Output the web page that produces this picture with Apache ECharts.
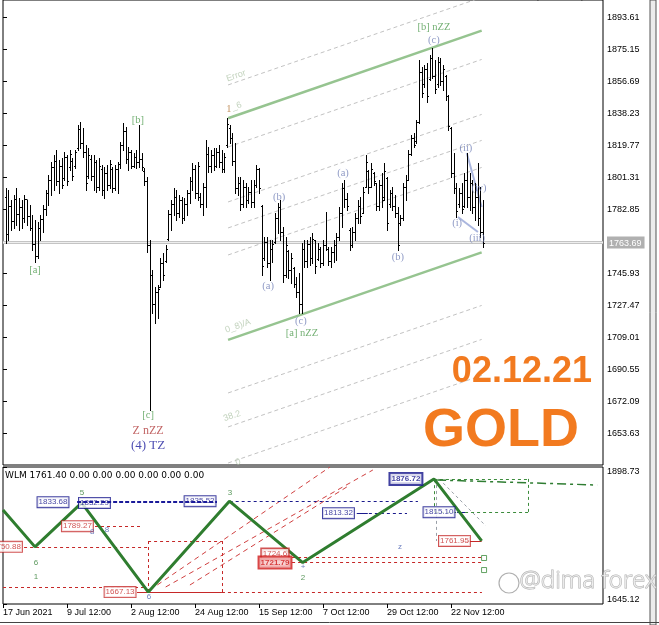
<!DOCTYPE html>
<html>
<head>
<meta charset="utf-8">
<title>GOLD 02.12.21</title>
<script src="https://cdn.jsdelivr.net/npm/echarts@6/dist/echarts.min.js"></script>
<style>
  html, body { margin: 0; padding: 0; background: #fff; }
  #chart { width: 659px; height: 625px; }
</style>
</head>
<body>
<div id="chart"></div>
<script>
// --- axes ---
const priceTicks = [1893.61, 1875.15, 1856.69, 1838.23, 1819.77, 1801.31, 1782.85, 1763.69, 1745.93, 1727.47, 1709.01, 1690.55, 1672.09, 1653.63];
const lastPrice = 1763.69;
const subTicks = [1645.12, 1898.73];
const timeTicks = [0, 24, 48, 72, 96, 120, 144, 168];
const timeLabels = ['17 Jun 2021', '9 Jul 12:00', '2 Aug 12:00', '24 Aug 12:00', '15 Sep 12:00', '7 Oct 12:00', '29 Oct 12:00', '22 Nov 12:00'];

// --- price bars (bar 1 .. 180) ---
const opens = [
  1790.0,1768.5,1785.0,1776.0,1789.0,1780.0,1784.0,1778.0,1789.0,1779.0,
  1772.0,1763.0,1756.0,1772.0,1777.0,1783.0,1792.0,1800.0,1807.0,1811.0,
  1799.0,1808.0,1801.0,1813.0,1807.0,1811.0,1808.0,1818.0,1829.0,1821.0,
  1816.0,1802.0,1812.0,1802.0,1810.0,1796.0,1806.0,1794.0,1804.0,1797.0,
  1806.0,1795.0,1806.0,1809.0,1820.0,1828.0,1812.0,1816.0,1808.0,1813.0,
  1810.0,1812.0,1805.0,1799.0,1762.0,1745.0,1728.0,1735.0,1738.0,1752.0,
  1753.0,1766.0,1780.0,1786.0,1790.0,1781.0,1788.0,1778.0,1786.0,1792.0,
  1799.0,1806.0,1792.0,1790.0,1786.0,1796.0,1815.0,1808.0,1814.0,1808.0,
  1816.0,1810.0,1806.0,1820.0,1830.0,1824.0,1811.0,1795.0,1798.0,1786.0,
  1796.0,1788.0,1793.0,1787.0,1797.0,1806.0,1785.0,1755.0,1764.0,1752.0,
  1760.0,1764.0,1778.0,1784.0,1770.0,1745.0,1759.0,1748.0,1749.0,1740.0,
  1735.0,1728.0,1760.0,1753.0,1763.0,1755.0,1765.0,1754.0,1760.0,1752.0,
  1762.0,1760.0,1753.0,1758.0,1762.0,1767.0,1781.0,1795.0,1789.0,1771.0,
  1762.0,1770.0,1778.0,1785.0,1781.0,1796.0,1805.0,1796.0,1804.0,1798.0,
  1785.0,1797.0,1790.0,1801.0,1786.0,1792.0,1785.0,1781.0,1775.0,1778.0,
  1796.0,1800.0,1815.0,1824.0,1822.0,1833.0,1862.0,1855.0,1864.0,1858.0,
  1870.0,1860.0,1855.0,1868.0,1857.0,1860.0,1848.0,1830.0,1804.0,1795.0,
  1786.0,1792.0,1785.0,1800.0,1790.0,1798.0,1784.0,1790.0,1778.0,1770.0
];
const highs = [
  1795.1,1794.0,1788.2,1791.1,1795.1,1789.4,1788.2,1791.1,1788.2,1785.3,
  1779.6,1776.7,1775.5,1779.6,1785.3,1794.0,1802.6,1810.1,1814.2,1817.1,
  1811.3,1812.5,1815.9,1814.2,1817.1,1812.5,1817.1,1831.5,1833.2,1829.8,
  1820.0,1818.2,1814.2,1814.2,1811.3,1812.5,1808.4,1807.3,1808.4,1811.3,
  1807.3,1808.4,1810.1,1821.7,1832.6,1830.3,1818.8,1817.1,1815.3,1817.1,
  1831.5,1815.3,1806.7,1801.5,1765.2,1747.9,1738.0,1739.2,1754.8,1757.7,
  1762.3,1782.5,1788.2,1795.1,1794.0,1791.1,1790.0,1789.4,1794.0,1801.5,
  1809.6,1808.4,1810.1,1792.3,1798.0,1822.8,1818.8,1817.1,1818.2,1818.2,
  1819.9,1817.1,1815.3,1835.5,1831.5,1826.9,1821.1,1801.5,1801.5,1799.8,
  1798.0,1795.7,1799.8,1799.8,1808.4,1806.7,1785.3,1766.9,1766.9,1765.2,
  1765.2,1780.7,1786.5,1788.2,1772.7,1766.9,1759.4,1757.7,1749.6,1743.8,
  1746.1,1763.4,1765.2,1765.2,1766.9,1769.2,1765.2,1763.4,1761.1,1765.2,
  1781.3,1761.1,1761.1,1765.2,1769.2,1784.2,1798.0,1799.8,1792.3,1772.1,
  1772.7,1780.7,1788.2,1790.0,1795.7,1814.2,1805.5,1809.6,1804.4,1798.0,
  1799.8,1803.8,1809.6,1801.5,1794.0,1795.7,1791.1,1784.2,1779.6,1798.0,
  1802.6,1817.1,1825.7,1826.9,1834.4,1869.0,1864.9,1866.1,1867.3,1871.9,
  1875.9,1869.0,1870.7,1870.1,1866.1,1860.3,1848.8,1830.3,1815.3,1798.0,
  1795.1,1798.0,1803.8,1815.3,1803.8,1799.8,1798.0,1809.6,1795.7,1788.2
];
const lows = [
  1763.4,1765.2,1770.9,1772.1,1773.8,1770.9,1772.1,1775.5,1773.8,1770.9,
  1759.4,1752.5,1754.8,1765.2,1769.8,1779.6,1785.3,1791.1,1794.0,1796.9,
  1792.3,1795.1,1799.8,1796.9,1805.5,1799.8,1806.7,1817.1,1818.2,1813.0,
  1794.0,1800.9,1799.8,1794.0,1792.8,1794.0,1791.1,1789.4,1794.0,1795.1,
  1792.8,1794.0,1792.3,1806.7,1817.1,1809.6,1805.5,1806.7,1807.3,1806.7,
  1807.3,1805.5,1796.9,1758.2,1667.13,1723.0,1717.3,1720.2,1738.0,1742.1,
  1752.5,1765.2,1770.9,1779.6,1776.7,1778.4,1775.0,1776.7,1779.6,1786.5,
  1794.0,1789.4,1788.2,1784.2,1779.6,1784.2,1804.4,1804.4,1805.5,1807.3,
  1807.3,1804.4,1804.4,1818.8,1821.1,1808.4,1792.3,1791.1,1782.5,1784.2,
  1784.2,1786.5,1784.2,1784.2,1795.7,1792.3,1745.0,1753.6,1749.6,1742.1,
  1752.5,1763.4,1769.2,1765.2,1740.9,1743.8,1743.2,1740.3,1738.0,1732.3,
  1723.0,1723.0,1749.6,1749.6,1750.7,1751.9,1746.1,1753.6,1749.6,1750.7,
  1759.4,1750.7,1749.6,1752.5,1753.6,1765.2,1772.7,1784.2,1782.5,1759.4,
  1761.1,1765.2,1775.0,1775.0,1780.7,1795.7,1792.3,1795.7,1796.9,1782.5,
  1782.5,1784.2,1788.2,1770.9,1784.2,1782.5,1778.4,1759.4,1773.8,1776.7,
  1788.2,1799.8,1814.2,1818.8,1821.1,1832.6,1847.6,1853.4,1844.8,1857.5,
  1858.6,1849.9,1853.4,1854.6,1851.7,1845.9,1828.6,1801.5,1792.3,1778.4,
  1784.2,1780.7,1784.2,1784.2,1782.5,1780.7,1776.7,1773.8,1766.9,1761.1
];
const closes = [
  1768.5,1785.0,1776.0,1789.0,1780.0,1784.0,1778.0,1789.0,1779.0,1772.0,
  1763.0,1756.0,1772.0,1777.0,1783.0,1792.0,1800.0,1807.0,1811.0,1799.0,
  1808.0,1797.0,1813.0,1799.0,1815.0,1802.0,1816.0,1829.0,1821.0,1816.0,
  1798.0,1814.0,1802.0,1810.0,1796.0,1808.0,1794.0,1804.0,1797.0,1809.0,
  1795.0,1806.0,1809.0,1820.0,1828.0,1812.0,1816.0,1808.0,1813.0,1810.0,
  1812.0,1807.0,1799.0,1762.0,1745.0,1728.0,1735.0,1737.0,1752.0,1745.0,
  1760.0,1780.0,1786.0,1790.0,1781.0,1788.0,1778.0,1786.0,1792.0,1799.0,
  1806.0,1792.0,1808.0,1786.0,1796.0,1815.0,1808.0,1814.0,1808.0,1816.0,
  1810.0,1806.0,1813.0,1832.0,1824.0,1811.0,1795.0,1798.0,1786.0,1796.0,
  1788.0,1793.0,1787.0,1797.0,1806.0,1795.0,1750.0,1764.0,1752.0,1760.0,
  1763.0,1778.0,1784.0,1770.0,1745.0,1762.0,1748.0,1755.0,1740.0,1735.0,
  1728.0,1760.0,1753.0,1763.0,1755.0,1766.0,1750.0,1760.0,1752.0,1762.0,
  1760.0,1753.0,1758.0,1762.0,1767.0,1781.0,1795.0,1789.0,1785.0,1762.0,
  1770.0,1778.0,1785.0,1779.0,1793.0,1810.0,1796.0,1806.0,1799.0,1785.0,
  1797.0,1788.0,1805.0,1775.0,1792.0,1785.0,1781.0,1762.0,1778.0,1796.0,
  1800.0,1815.0,1824.0,1820.0,1833.0,1862.0,1850.0,1864.0,1848.0,1870.0,
  1860.0,1852.0,1868.0,1857.0,1864.0,1848.0,1831.0,1804.0,1795.0,1782.0,
  1792.0,1783.0,1800.0,1790.0,1798.0,1784.0,1790.0,1778.0,1770.0,1763.7
];

// --- channel (bar positions of both ends, prices at left / right end) ---
const channelBars = [84.4, 179.5];
const channelEdges = [[1835.4, 1885.9], [1707.5, 1758.0]];
const channelLevels = [
  [1854.6, 1905.1], [1818.8, 1869.3], [1787.1, 1837.6], [1772.1, 1822.6], [1756.5, 1807.0],
  [1676.9, 1727.4], [1657.3, 1707.8], [1636.5, 1687.0]
];
const chanText = ['Error', '_6', '0_8)/A', '38.2', '0'];
const chanBars = [87.4, 87.6, 88.1, 85.9, 88.1];
const chanPrices = [1859.8, 1842.4, 1715.5, 1663.6, 1637.1];

// --- wave labels ---
const greenText = ['[a]', '[b]', '[c]', '[a] nZZ', '[b] nZZ'];
const greenBars = [12, 50.6, 54.4, 112.1, 161.6];
const greenPrices = [1747.8, 1834.4, 1664.2, 1711.5, 1888.0];
const minorText = ['(a)', '(b)', '(c)', '(a)', '(b)', '(c)', '(i)', '(ii)', '(iii)', '(iv)'];
const minorBars = [99.4, 103.5, 111.7, 127.5, 148.1, 161.6, 170.3, 173.6, 177.8, 178.5];
const minorPrices = [1738.6, 1790.0, 1718.4, 1803.8, 1755.3, 1880.5, 1775.0, 1818.2, 1766.3, 1795.1];
const waveLines = [[[173.9, 1815.3], [179.5, 1784.2]], [[170.6, 1778.4], [178.1, 1769.8]]];

// --- WLM sub window ---
const zigzagBars = [0, 12, 29.5, 54.5, 84.9, 112.4, 161.6, 179.5];
const zigzagPrices = [1819.1, 1750.88, 1832.29, 1667.13, 1835.52, 1721.79, 1876.72, 1761.95];
const blueBoxText = ['1833.68', '1832.29', '1835.52', '1813.32', '1815.10'];
const blueBoxBars = [18.75, 34.3, 73.9, 125.8, 163.5];
const blueBoxPrices = [1833.68, 1832.29, 1835.52, 1813.32, 1815.10];
const redBoxText = ['1750.88', '1789.27', '1667.13', '1761.95'];
const redBoxBars = [1.3, 27.9, 43.9, 169.3];
const redBoxPrices = [1750.88, 1789.27, 1667.13, 1761.95];
const redDashed = [[7.9, 54.4, 1750.88], [34.5, 52.5, 1789.27], [0, 54, 1676.6], [82.1, 179.6, 1667.13],
  [54.4, 82.1, 1761.7], [108.4, 179.6, 1732.1], [108.4, 179.6, 1721.79]];
const redSolid = [[50.25, 82.1, 1667.13], [172, 179.5, 1761.95]];
const redDiagonals = [[[55.1, 1671.0], [122.6, 1898.7]], [[61.0, 1676.6], [138.7, 1893.2]], [[70.1, 1680.3], [130.1, 1865.4]]];
const blueThick = [[27.8, 80.25, 1833.68]];
const blueDashed = [[85, 155.6, 1835.52], [132.7, 151.5, 1813.32]];
const blueSolid = [[132.7, 136.8, 1813.32], [170.3, 173.3, 1815.10]];
const greenSmallText = ['5', '3', '6', '1', '2'];
const greenSmallBars = [29.6, 85.1, 12.4, 12.4, 112.5];
const greenSmallPrices = [1850.6, 1850.6, 1721.0, 1695.1, 1693.2];
const blueSmallText = ['6', '8', '+', 'z', '8'];
const blueSmallBars = [54.7, 39, 112.5, 148.9, 33.5];
const blueSmallPrices = [1658.1, 1782.1, 1713.6, 1750.6, 1779.0];

const chart = echarts.init(document.getElementById('chart'));

function renderBar(params, api) {
  const x = api.value(0);
  const o = api.coord([x, api.value(1)]);
  const c = api.coord([x, api.value(2)]);
  const l = api.coord([x, api.value(3)]);
  const h = api.coord([x, api.value(4)]);
  const px = Math.round(h[0]) + 0.5;
  const oy = Math.round(o[1]) + 0.5;
  const cy = Math.round(c[1]) + 0.5;
  return {
    type: 'group',
    children: [
      { type: 'line', shape: { x1: px, y1: Math.round(h[1]), x2: px, y2: Math.round(l[1]) + 1 }, style: { stroke: '#000', lineWidth: 1 } },
      { type: 'line', shape: { x1: px - 1.5, y1: oy, x2: px, y2: oy }, style: { stroke: '#000', lineWidth: 1 } },
      { type: 'line', shape: { x1: px, y1: cy, x2: px + 1.5, y2: cy }, style: { stroke: '#000', lineWidth: 1 } }
    ]
  };
}

function textSeries(grid, texts, bars, prices, label, z) {
  return {
    type: 'scatter', xAxisIndex: grid, yAxisIndex: grid, silent: true, z: z || 6,
    symbolSize: 1, itemStyle: { color: 'rgba(0,0,0,0)' },
    data: texts.map((t, k) => ({ name: t, value: [bars[k], prices[k]] })),
    label: Object.assign({ show: true, position: 'inside', formatter: '{b}' }, label)
  };
}

function segSeries(grid, segs, lineStyle, z) {
  return {
    type: 'lines', coordinateSystem: 'cartesian2d', xAxisIndex: grid, yAxisIndex: grid,
    silent: true, z: z || 2, polyline: false,
    lineStyle: Object.assign({ opacity: 1, curveness: 0 }, lineStyle),
    data: segs.map(s => ({ coords: s }))
  };
}

const hSegs = list => list.map(s => [[s[0], s[2]], [s[1], s[2]]]);

const serif = 'Liberation Serif';
const sans = 'Liberation Sans';
const boxLabel = (color) => ({
  fontFamily: sans, fontSize: 8, lineHeight: 9, color: color,
  backgroundColor: '#fff', borderColor: color, borderWidth: 1, padding: [1, 1, 0, 1]
});

const option = {
  animation: false,
  backgroundColor: '#fff',
  grid: [
    { left: 3, top: 0, width: 600, height: 465, show: true, borderColor: '#000', borderWidth: 1, backgroundColor: '#fff' },
    { left: 3, top: 467, width: 600, height: 137, show: true, borderColor: '#000', borderWidth: 1, backgroundColor: '#fff' }
  ],
  xAxis: [
    { gridIndex: 0, type: 'value', min: 0, max: 225, show: false },
    {
      gridIndex: 1, type: 'value', min: 0, max: 225,
      splitLine: { show: false }, axisLine: { show: false },
      axisTick: { customValues: timeTicks, length: 4, lineStyle: { color: '#000' } },
      axisLabel: {
        customValues: timeTicks, showMinLabel: true, align: 'left', margin: 4,
        fontFamily: sans, fontSize: 9, color: '#000',
        formatter: v => timeLabels[timeTicks.indexOf(v)]
      }
    }
  ],
  yAxis: [
    {
      gridIndex: 0, type: 'value', position: 'right', min: 1635.35, max: 1903.6,
      splitLine: { show: false }, axisLine: { show: false },
      axisTick: { customValues: priceTicks, length: 4, lineStyle: { color: '#000' } },
      axisLabel: {
        customValues: priceTicks, margin: 4, fontFamily: sans, fontSize: 9, color: '#000',
        formatter: v => v === lastPrice ? '{cur|' + v.toFixed(2) + '}' : v.toFixed(2),
        rich: { cur: { backgroundColor: '#b0b0b0', color: '#fff', fontFamily: sans, fontSize: 9, padding: [2, 3, 1, 2] } }
      }
    },
    {
      gridIndex: 1, type: 'value', position: 'right', min: 1645.12, max: 1898.73,
      splitLine: { show: false }, axisLine: { show: false },
      axisTick: { customValues: subTicks, length: 4, lineStyle: { color: '#000' } },
      axisLabel: {
        customValues: subTicks, margin: 4, fontFamily: sans, fontSize: 9, color: '#000',
        verticalAlignMinLabel: 'bottom', verticalAlignMaxLabel: 'top',
        formatter: v => v.toFixed(2)
      }
    }
  ],
  series: [
    // current price line
    segSeries(0, [[[0, lastPrice], [225, lastPrice]]], { color: '#c4c4c4', width: 3 }, 1),
    segSeries(0, [[[0, lastPrice], [225, lastPrice]]], { color: '#eeeeee', width: 1 }, 1),
    // channel
    segSeries(0, channelLevels.map(p => [[channelBars[0], p[0]], [channelBars[1], p[1]]]), { color: '#c2c2c2', width: 1, type: [4, 3] }, 2),
    segSeries(0, channelEdges.map(p => [[channelBars[0], p[0]], [channelBars[1], p[1]]]), { color: '#96c490', width: 2.5 }, 2),
    segSeries(0, waveLines, { color: '#aab6de', width: 2 }, 3),
    {
      type: 'custom', xAxisIndex: 0, yAxisIndex: 0, silent: true, z: 4,
      renderItem: renderBar,
      encode: { x: 0, y: [1, 2, 3, 4] },
      data: highs.map((h, k) => [k + 1, opens[k], closes[k], lows[k], h])
    },
    textSeries(0, chanText, chanBars, chanPrices, { fontFamily: sans, fontSize: 9, color: '#b4c8ae', rotate: 19 }, 3),
    textSeries(0, greenText, greenBars, greenPrices, { fontFamily: serif, fontSize: 10.5, color: '#4f9b4f' }),
    textSeries(0, minorText, minorBars, minorPrices, { fontFamily: serif, fontSize: 10.5, color: '#7482b8' }),
    textSeries(0, ['1'], [84.7], [1840.6], { fontFamily: serif, fontSize: 10.5, color: '#b5793c' }),
    textSeries(0, ['Z nZZ'], [54.4], [1655.0], { fontFamily: serif, fontSize: 12, color: '#b23c3c' }),
    textSeries(0, ['(4) TZ'], [54.4], [1646.3], { fontFamily: serif, fontSize: 13, color: '#1c1c9c' }),

    // WLM sub window
    segSeries(1, hSegs(redDashed), { color: '#c62828', width: 1, type: [3, 3] }, 2),
    segSeries(1, [[[54.4, 1761.7], [54.4, 1667.13]], [[82.1, 1761.7], [82.1, 1667.13]]], { color: '#c62828', width: 1, type: [3, 3] }, 2),
    segSeries(1, redDiagonals, { color: '#d04040', width: 1, type: [5, 4] }, 2),
    segSeries(1, hSegs(redSolid), { color: '#c62828', width: 1 }, 2),
    segSeries(1, hSegs(blueDashed), { color: '#1a1a8c', width: 1, type: [3, 3] }, 2),
    segSeries(1, hSegs(blueSolid), { color: '#1a1a8c', width: 1 }, 2),
    segSeries(1, [[[162.4, 1876.72], [162.4, 1761.95]], [[163.5, 1876.72], [181, 1790]]], { color: '#9aa0a8', width: 1, type: [3, 3] }, 2),
    segSeries(1, [
      [[161.6, 1876.72], [196.9, 1876.72]], [[196.9, 1876.72], [196.9, 1815.10]],
      [[196.9, 1815.10], [161.6, 1815.10]], [[161.6, 1815.10], [161.6, 1876.72]]
    ], { color: '#3c8c3c', width: 1, type: [3, 3] }, 2),
    segSeries(1, [[[162.8, 1874.7], [222.8, 1865.4]]], { color: '#2f7d32', width: 1.5, type: [9, 4, 3, 4] }, 3),
    {
      type: 'line', xAxisIndex: 1, yAxisIndex: 1, silent: true, z: 4,
      symbol: 'none', lineStyle: { color: '#2f7d2f', width: 3 },
      data: zigzagBars.map((b, k) => [b, zigzagPrices[k]])
    },
    {
      type: 'scatter', xAxisIndex: 1, yAxisIndex: 1, silent: true, z: 5,
      symbol: 'rect', symbolSize: 5,
      itemStyle: { color: '#fff', borderColor: '#3c8c3c', borderWidth: 1 },
      data: [[180.4, 1730.3], [180.4, 1708.0]]
    },
    textSeries(1, blueBoxText, blueBoxBars, blueBoxPrices, boxLabel('#12128a'), 6),
    textSeries(1, ['1876.72'], [151.1], [1876.72], Object.assign(boxLabel('#12128a'), { fontWeight: 'bold', borderWidth: 2 }), 6),
    textSeries(1, redBoxText, redBoxBars, redBoxPrices, boxLabel('#c62828'), 6),
    textSeries(1, ['1724.6'], [102], [1724.6], Object.assign(boxLabel('#c62828'), { offset: [0, -7], borderWidth: 1.5 }), 6),
    textSeries(1, ['1721.79'], [102], [1721.79], Object.assign(boxLabel('#d01818'), { fontWeight: 'bold', backgroundColor: '#f6c4c4', borderWidth: 2 }), 7),
    segSeries(1, hSegs(blueThick), { color: '#1a1a9a', width: 2, type: [4, 2] }, 8),
    textSeries(1, greenSmallText, greenSmallBars, greenSmallPrices, { fontFamily: sans, fontSize: 8, color: '#2f7d32' }, 6),
    textSeries(1, blueSmallText, blueSmallBars, blueSmallPrices, { fontFamily: sans, fontSize: 8, color: '#4a60b0' }, 6)
  ],
  graphic: [
    { type: 'text', left: 433, top: -9, z: 50, style: { text: 'Elliott Wave Maker 3.0 (Extended)', fontFamily: sans, fontSize: 10, fill: '#333' } },
    { type: 'text', left: 5, top: 471, z: 50, style: { text: 'WLM 1761.40 0.00 0.00 0.00 0.00 0.00 0.00', fontFamily: 'DejaVu Sans', fontSize: 9, fill: '#000' } },
    { type: 'text', right: 67, top: 354, z: 50, style: { text: '02.12.21', fontFamily: sans, fontWeight: 'bold', fontSize: 36, fill: '#f27a1f' } },
    { type: 'text', right: 80, top: 404, z: 50, style: { text: 'GOLD', fontFamily: sans, fontWeight: 'bold', fontSize: 54, fill: '#f27a1f' } },
    { type: 'circle', z: 60, shape: { cx: 509, cy: 583, r: 10 }, style: { fill: 'rgba(255,255,255,0.5)', stroke: '#b0b0b0', lineWidth: 1.2 } },
    { type: 'text', left: 519, top: 569, z: 60, style: { text: '@dima forex', fontFamily: 'Noto Sans', fontWeight: 300, fontSize: 24, fill: 'rgba(255,255,255,0.6)', stroke: '#b0b0b0', lineWidth: 1 } },
    { type: 'rect', z: 40, shape: { x: 650, y: 0, width: 6, height: 625 }, style: { fill: '#ececec', stroke: '#555', lineWidth: 1 } },
    { type: 'line', z: 40, shape: { x1: 0, y1: 622.5, x2: 659, y2: 622.5 }, style: { stroke: '#444', lineWidth: 1 } }
  ]
};

chart.setOption(option);
</script>
</body>
</html>
